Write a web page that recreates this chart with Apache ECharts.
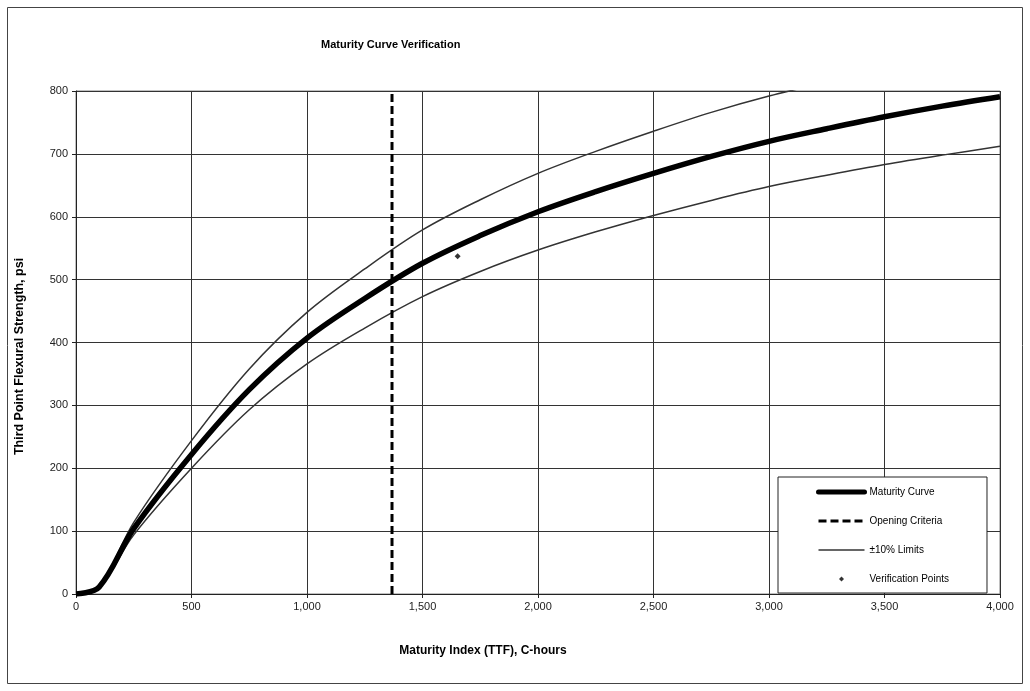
<!DOCTYPE html>
<html>
<head>
<meta charset="utf-8">
<script src="https://cdn.jsdelivr.net/npm/echarts@6/dist/echarts.min.js"></script>
<style>
html,body{margin:0;padding:0;background:#fff;}
#chart{width:1030px;height:691px;}
</style>
</head>
<body>
<div id="chart"></div>
<script>
// ---- data ----
const maturityX = [0, 100, 250, 500, 750, 1000, 1250, 1500, 1750, 2000, 2250, 2500, 2750, 3000, 3250, 3500, 3750, 4000];
const maturityCurve = [0, 11, 104, 222, 325, 407, 470, 526, 570, 608, 640, 669, 696, 720, 740, 759, 776, 791];
const upperLimit = [0, 12, 114, 244, 358, 448, 517, 579, 627, 669, 704, 736, 766, 792, 814, 835, 854, 870];
const lowerLimit = [0, 10, 94, 200, 293, 366, 423, 473, 513, 547, 576, 602, 626, 648, 666, 683, 698, 712];
const openingCriteriaX = 1368;
const openingCriteriaY = [0, 800];
const verificationPoints = [[1652, 537]];
const xTicks = {min: 0, max: 4000, interval: 500};
const yTicks = {min: 0, max: 800, interval: 100};

const FONT = "'Liberation Sans', Arial, sans-serif";
const pairs = (xs, ys) => xs.map((x, i) => [x, ys[i]]);
const fmt = v => String(v).replace(/\B(?=(\d{3})+(?!\d))/g, ',');

const chart = echarts.init(document.getElementById('chart'), null, {renderer: 'canvas'});
chart.setOption({
  animation: false,
  backgroundColor: '#fff',
  textStyle: {fontFamily: FONT},
  title: {
    text: 'Maturity Curve Verification',
    left: 316, top: 34,
    textStyle: {fontFamily: FONT, fontSize: 11, fontWeight: 'bold', color: '#000'}
  },
  graphic: [{
    type: 'rect', shape: {x: 7.5, y: 7.5, width: 1015, height: 676},
    style: {fill: null, stroke: '#444', lineWidth: 1}, silent: true, z: -10
  }],
  grid: {left: 76, right: 30, top: 91, bottom: 97, show: true, borderColor: '#808080', borderWidth: 1, backgroundColor: 'transparent'},
  xAxis: {
    type: 'value', min: xTicks.min, max: xTicks.max, interval: xTicks.interval,
    name: 'Maturity Index (TTF), C-hours', nameLocation: 'middle', nameGap: 51,
    nameTextStyle: {fontFamily: FONT, fontSize: 12, fontWeight: 'bold', color: '#000', padding: [0, 110, 0, 0]},
    axisLine: {lineStyle: {color: '#222', width: 1}},
    axisTick: {show: true, length: 4, lineStyle: {color: '#222'}},
    axisLabel: {formatter: fmt, fontFamily: FONT, fontSize: 11, color: '#222', margin: 7},
    splitLine: {show: true, lineStyle: {color: '#333', width: 1}}
  },
  yAxis: {
    type: 'value', min: yTicks.min, max: yTicks.max, interval: yTicks.interval,
    name: 'Third Point Flexural Strength, psi', nameLocation: 'middle', nameGap: 50,
    nameTextStyle: {fontFamily: FONT, fontSize: 12.5, fontWeight: 'bold', color: '#000', padding: [0, 28, 0, 0]},
    axisLine: {show: true, lineStyle: {color: '#222', width: 1}},
    axisTick: {show: true, length: 4, lineStyle: {color: '#222'}},
    axisLabel: {fontFamily: FONT, fontSize: 11, color: '#222', margin: 8},
    splitLine: {show: true, lineStyle: {color: '#333', width: 1}}
  },
  legend: {
    orient: 'vertical', left: 778, top: 477,
    padding: [10, 38, 9, 38],
    itemWidth: 46, itemHeight: 8, itemGap: 19,
    borderColor: '#222', borderWidth: 1, backgroundColor: '#fff',
    selectedMode: false,
    textStyle: {fontFamily: FONT, fontSize: 10, color: '#000'},
    data: [
      {name: 'Maturity Curve', lineStyle: {width: 5, cap: 'round'}, itemStyle: {opacity: 0}},
      {name: 'Opening Criteria', lineStyle: {width: 3}, itemStyle: {opacity: 0}},
      {name: '±10% Limits', lineStyle: {width: 1.5}, itemStyle: {opacity: 0}},
      {name: 'Verification Points', icon: 'path://M0,0M46,8M23,1.5L25.5,4L23,6.5L20.5,4Z'}
    ]
  },
  series: [
    {
      name: '±10% Limits', type: 'line', data: pairs(maturityX, upperLimit),
      symbol: 'none', clip: true, smooth: 0.35,
      lineStyle: {color: '#333', width: 1.5}, itemStyle: {color: '#333'}, z: 3
    },
    {
      name: '±10% Limits', type: 'line', data: pairs(maturityX, lowerLimit),
      symbol: 'none', clip: true, smooth: 0.35,
      lineStyle: {color: '#333', width: 1.5}, itemStyle: {color: '#333'}, z: 3
    },
    {
      name: 'Maturity Curve', type: 'line', data: pairs(maturityX, maturityCurve),
      symbol: 'none', clip: true, smooth: 0.35,
      lineStyle: {color: '#000', width: 5.5, join: 'round'}, itemStyle: {color: '#000'}, z: 4
    },
    {
      name: 'Opening Criteria', type: 'line',
      data: openingCriteriaY.map(y => [openingCriteriaX, y]),
      symbol: 'none', lineStyle: {color: '#000', width: 3, type: [8, 4]}, itemStyle: {color: '#000'}, z: 5
    },
    {
      name: 'Verification Points', type: 'scatter', data: verificationPoints,
      symbol: 'diamond', symbolSize: 6, itemStyle: {color: '#000'}, z: 6
    }
  ]
});
</script>
</body>
</html>
